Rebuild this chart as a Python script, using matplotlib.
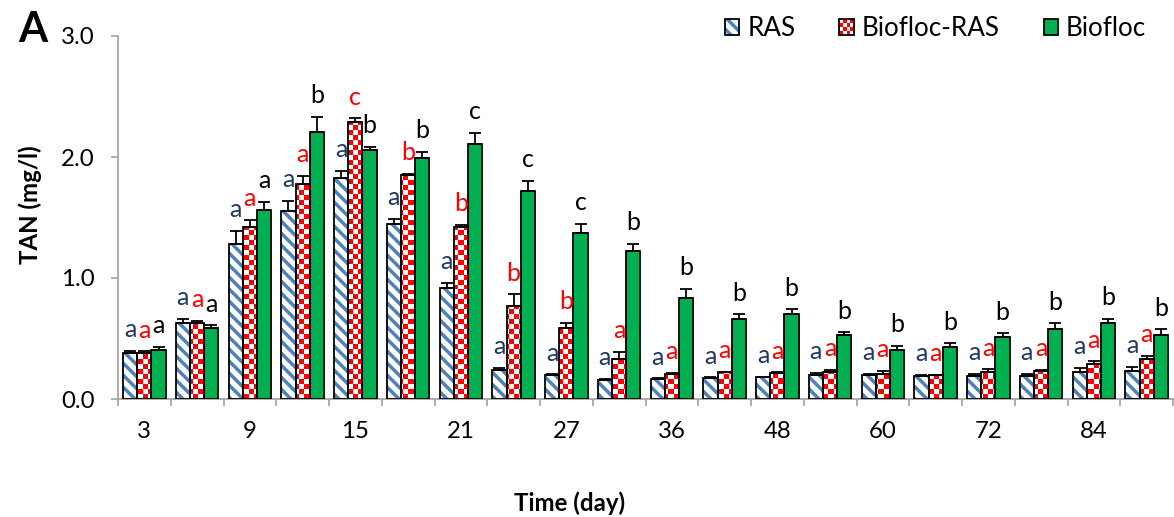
import numpy as np
import matplotlib
matplotlib.use('Agg')
import matplotlib.pyplot as plt
from matplotlib.patches import Rectangle, Patch
from matplotlib.colors import ListedColormap
from matplotlib.legend_handler import HandlerBase

# data
days = [3, 6, 9, 12, 15, 18, 21, 24, 27, 30, 36, 42, 48, 54, 60, 66, 72, 78, 84, 90]
series = ['RAS', 'Biofloc-RAS', 'Biofloc']

ras = [0.38, 0.63, 1.28, 1.55, 1.83, 1.45, 0.92, 0.24, 0.20, 0.16,
       0.165, 0.175, 0.18, 0.20, 0.20, 0.19, 0.19, 0.19, 0.225, 0.23]
ras_err = [0.02, 0.03, 0.11, 0.09, 0.055, 0.04, 0.04, 0.02, 0.005, 0.005,
           0.005, 0.005, 0.005, 0.017, 0.01, 0.01, 0.02, 0.02, 0.03, 0.035]
bras = [0.38, 0.625, 1.42, 1.78, 2.29, 1.85, 1.42, 0.77, 0.59, 0.33,
        0.21, 0.22, 0.215, 0.22, 0.21, 0.195, 0.225, 0.235, 0.29, 0.33]
bras_err = [0.015, 0.02, 0.06, 0.065, 0.03, 0.01, 0.02, 0.095, 0.04, 0.06,
            0.005, 0.005, 0.005, 0.02, 0.02, 0.005, 0.02, 0.005, 0.02, 0.025]
bio = [0.405, 0.59, 1.56, 2.21, 2.06, 1.99, 2.11, 1.72, 1.37, 1.22,
       0.835, 0.665, 0.70, 0.53, 0.405, 0.43, 0.51, 0.58, 0.63, 0.525]
bio_err = [0.025, 0.02, 0.07, 0.12, 0.025, 0.05, 0.09, 0.085, 0.08, 0.065,
           0.075, 0.035, 0.04, 0.02, 0.033, 0.03, 0.033, 0.045, 0.03, 0.05]

ras_let = ['a'] * 20
bras_let = ['a', 'a', 'a', 'a', 'c', 'b', 'b', 'b', 'b', 'a',
            'a', 'a', 'a', 'a', 'a', 'a', 'a', 'a', 'a', 'a']
bio_let = ['a', 'a', 'a', 'b', 'b', 'b', 'c', 'c', 'c', 'b',
           'b', 'b', 'b', 'b', 'b', 'b', 'b', 'b', 'b', 'b']

STRIPE = '#4F81BD'
RED = '#FF0000'
GREEN = '#00B050'
GRAY = '#A6A6A6'

plt.rcParams['font.family'] = ['Lato', 'DejaVu Sans']
plt.rcParams['hatch.linewidth'] = 3.5


class SwatchHandler(HandlerBase):
    def __init__(self, kind):
        super().__init__()
        self.kind = kind

    def create_artists(self, legend, orig_handle, xdescent, ydescent,
                       width, height, fontsize, trans):
        x0, y0 = -xdescent, -ydescent
        arts = []
        if self.kind == 'hatch':
            arts.append(Rectangle((x0, y0), width, height, facecolor='white',
                                  edgecolor=STRIPE, hatch='\\\\', lw=0, transform=trans))
        elif self.kind == 'checker':
            n = 4
            for i in range(n):
                for j in range(n):
                    c = RED if (i + j) % 2 == 0 else 'white'
                    arts.append(Rectangle((x0 + i * width / n, y0 + j * height / n),
                                          width / n, height / n, facecolor=c,
                                          lw=0, transform=trans))
        else:
            arts.append(Rectangle((x0, y0), width, height, facecolor=GREEN,
                                  lw=0, transform=trans))
        arts.append(Rectangle((x0, y0), width, height, fill=False,
                              edgecolor='black', lw=1.8, transform=trans))
        return arts


fig = plt.figure(figsize=(1174 / 72, 517 / 72), dpi=72)
ax = fig.add_axes([118 / 1174, 1 - 399 / 517, 1055 / 1174, 363 / 517])

x = np.arange(len(days))
w = 0.27
zeros = np.zeros(len(days))

# RAS: blue stripes on white
ras_bars = ax.bar(x - w, ras, w, color='white', edgecolor=STRIPE, hatch='\\\\',
                  linewidth=0, zorder=2)
# Biofloc-RAS: white base, checker image clipped to each bar
bras_bars = ax.bar(x, bras, w, color='white', linewidth=0, zorder=2)
checker = np.add.outer(np.arange(73), np.arange(211)) % 2
cmap = ListedColormap(['white', RED])
for b in bras_bars:
    im = ax.imshow(checker, cmap=cmap, extent=(0, 1, 0, 1), transform=ax.transAxes,
                   interpolation='nearest', aspect='auto', zorder=2.5)
    im.set_clip_path(b)
ax.bar(x + w, bio, w, color=GREEN, linewidth=0, zorder=2)

for off, vals, errs in [(-w, ras, ras_err), (0, bras, bras_err), (w, bio, bio_err)]:
    ax.bar(x + off, vals, w, fill=False, edgecolor='black', linewidth=1.8, zorder=3)
    ax.errorbar(x + off, vals, yerr=[zeros, errs], fmt='none', ecolor='black',
                elinewidth=1.8, capsize=6, capthick=1.8, zorder=4)

# significance letters
for off, vals, errs, lets, col in [(-w, ras, ras_err, ras_let, '#1F3864'),
                                   (0, bras, bras_err, bras_let, RED),
                                   (w, bio, bio_err, bio_let, 'black')]:
    for xi, v, e, t in zip(x, vals, errs, lets):
        ax.text(xi + off, v + e + 0.08, t, ha='center', va='bottom',
                fontsize=25, color=col)

ax.set_xlim(-0.5, len(days) - 0.5)
ax.set_ylim(0, 3)
ax.set_yticks([0, 1, 2, 3])
ax.set_yticklabels(['0.0', '1.0', '2.0', '3.0'])
ax.set_xticks(np.arange(len(days) + 1) - 0.5)
ax.set_xticklabels([])
ax.set_xticks(x[::2], minor=True)
ax.set_xticklabels([str(d) for d in days[::2]], minor=True)

for s in ['top', 'right']:
    ax.spines[s].set_visible(False)
for s in ['left', 'bottom']:
    ax.spines[s].set_color(GRAY)
    ax.spines[s].set_linewidth(1.8)
ax.tick_params(axis='both', which='major', direction='out', color=GRAY,
               width=1.8, length=7, labelsize=24)
ax.tick_params(axis='y', pad=16)
ax.tick_params(axis='x', which='minor', length=0, labelsize=24, pad=22)

fig.text(30 / 1174, 1 - 205 / 517, 'TAN (mg/l)', rotation=90, ha='center',
         va='center', fontsize=24, fontweight='bold')
fig.text(570 / 1174, 1 - 503 / 517, 'Time (day)', ha='center', va='center',
         fontsize=24, fontweight='bold')
fig.text(33 / 1174, 1 - 30 / 517, 'A', ha='center', va='center',
         fontsize=42, fontweight='bold')

handles = [Patch(label=s) for s in series]
hmap = {handles[0]: SwatchHandler('hatch'), handles[1]: SwatchHandler('checker'),
        handles[2]: SwatchHandler('solid')}
fig.legend(handles=handles, labels=series, handler_map=hmap, ncol=3,
           loc='center right', bbox_to_anchor=(1146 / 1174, 1 - 29 / 517),
           frameon=False, fontsize=26, handlelength=0.55, handleheight=0.55,
           handletextpad=0.3, columnspacing=1.7, borderaxespad=0, borderpad=0)

fig.savefig('out.png', dpi=72)
